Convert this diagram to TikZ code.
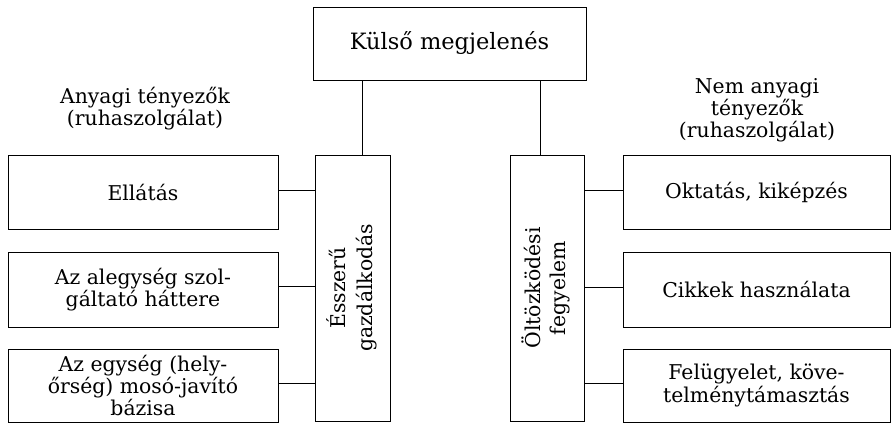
\documentclass[tikz,border=0pt]{standalone}
\usepackage{fontspec}
\setmainfont{DejaVu Serif}
\usepackage{tikz}

\begin{document}
\begin{tikzpicture}[
    tbox/.style={draw=black, line width=0.5pt, inner sep=0pt, outer sep=0pt, align=center},
    sidebox/.style={tbox, minimum width=5.38cm, minimum height=1.48cm},
    vbox/.style={tbox, minimum width=1.5cm, minimum height=5.32cm},
    lbl/.style={align=center, inner sep=0pt},
    font=\fontsize{11.6}{12.6}\selectfont
  ]
                    \useasboundingbox (0,0) rectangle (17.84,8.48);

                    \node[tbox, minimum width=5.46cm, minimum height=1.46cm, font=\fontsize{12.8}{13}\selectfont] (kulso) at (8.99,7.61) {Külső megjelenés};

                    \node[lbl] (anyagi) at (2.9,6.3) {Anyagi tényezők\\(ruhaszolgálat)};
                    \node[lbl] (nemanyagi) at (15.14,6.28) {Nem anyagi\\tényezők\\(ruhaszolgálat)};

                    \node[vbox] (gazd) at (7.06,2.72) {\rotatebox{90}{\begin{tabular}{@{}c@{}}Ésszerű\\[2pt]gazdálkodás\end{tabular}}};
                    \node[vbox, minimum width=1.48cm] (fegy) at (10.94,2.72) {\rotatebox{90}{\begin{tabular}{@{}c@{}}Öltözködési\\[2pt]fegyelem\end{tabular}}};

                    \node[sidebox, minimum width=5.4cm] (ellat) at (2.86,4.64) {Ellátás};
                    \node[sidebox, minimum width=5.4cm, minimum height=1.5cm] (hatter) at (2.86,2.69) {Az alegység szol-\\gáltató háttere};
                    \node[sidebox, minimum width=5.4cm, minimum height=1.46cm] (bazis) at (2.86,0.77) {Az egység (hely-\\őrség) mosó-javító\\bázisa};

                    \node[sidebox, minimum width=5.34cm] (oktat) at (15.13,4.64) {Oktatás, kiképzés};
                    \node[sidebox, minimum width=5.34cm, minimum height=1.5cm] (cikk) at (15.13,2.69) {Cikkek használata};
                    \node[sidebox, minimum width=5.34cm, minimum height=1.46cm] (felugy) at (15.13,0.77) {Felügyelet, köve-\\telménytámasztás};

                    \draw[black, line width=0.5pt] ([xshift=0.18cm]gazd.north) -- ([xshift=0.18cm]gazd.north |- kulso.south);
                    \draw[black, line width=0.5pt] ([xshift=-0.14cm]fegy.north) -- ([xshift=-0.14cm]fegy.north |- kulso.south);

                    \draw[black, line width=0.5pt] ([yshift=0.04cm]ellat.east) -- ([yshift=0.04cm]ellat.east -| gazd.west);
                    \draw[black, line width=0.5pt] ([yshift=0.07cm]hatter.east) -- ([yshift=0.07cm]hatter.east -| gazd.west);
                    \draw[black, line width=0.5pt] ([yshift=0.05cm]bazis.east) -- ([yshift=0.05cm]bazis.east -| gazd.west);

                    \draw[black, line width=0.5pt] ([yshift=0.04cm]oktat.west) -- ([yshift=0.04cm]oktat.west -| fegy.east);
                    \draw[black, line width=0.5pt] ([yshift=0.05cm]cikk.west) -- ([yshift=0.05cm]cikk.west -| fegy.east);
                    \draw[black, line width=0.5pt] ([yshift=0.05cm]felugy.west) -- ([yshift=0.05cm]felugy.west -| fegy.east);
                \end{tikzpicture}
\end{document}
